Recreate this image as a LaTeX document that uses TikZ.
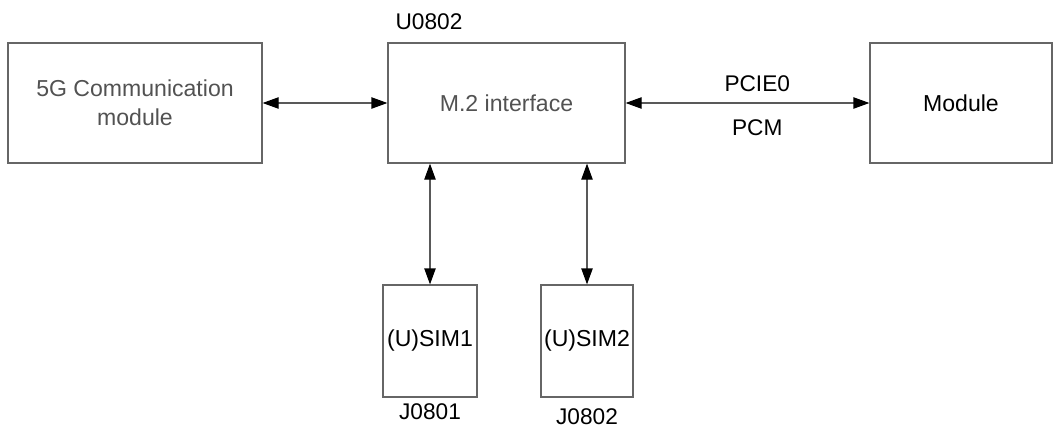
\documentclass[tikz,border=0pt]{standalone}
\usepackage{fontspec}
\setmainfont{Liberation Sans}
\usetikzlibrary{arrows.meta}
\tikzset{
  blockbox/.style={draw=black!60, line width=0.9pt, inner sep=0pt, align=center, font=\fontsize{17.3}{22}\selectfont},
  link/.style={{Triangle[length=12pt,width=8.5pt,color=black]}-{Triangle[length=12pt,width=8.5pt,color=black]}, draw=black!65, line width=0.9pt},
  tag/.style={inner sep=0pt, font=\fontsize{17}{20}\selectfont}
}
\begin{document}
\begin{tikzpicture}[x=0.75pt,y=-0.75pt]
\useasboundingbox (0,0) rectangle (1056,429);
\node[blockbox, text=black!68, minimum width=254*0.75pt, minimum height=120*0.75pt] (comm) at (135,103) {5G Communication\\module};
\node[blockbox, text=black!68, minimum width=237*0.75pt, minimum height=120*0.75pt] (mtwo) at (506.5,103) {M.2 interface};
\node[blockbox, minimum width=182*0.75pt, minimum height=120*0.75pt] (mod) at (961,103) {Module};
\node[blockbox, minimum width=94*0.75pt, minimum height=112*0.75pt] (simone) at (430,341) {(U)SIM1};
\node[blockbox, minimum width=92*0.75pt, minimum height=112*0.75pt] (simtwo) at (587,341) {(U)SIM2};
\node[tag] (umtwo) at (429,22) {U0802};
\node[tag] (jone) at (430,412) {J0801};
\node[tag] (jtwo) at (587,417) {J0802};
\draw[link] (comm) -- (mtwo);
\draw[link] (mtwo) -- (mod) node[tag, pos=0.54, above=8pt] {PCIE0} node[tag, pos=0.54, below=12pt] {PCM};
\draw[link] (mtwo.south -| simone.north) -- (simone.north);
\draw[link] (mtwo.south -| simtwo.north) -- (simtwo.north);
\end{tikzpicture}
\end{document}
